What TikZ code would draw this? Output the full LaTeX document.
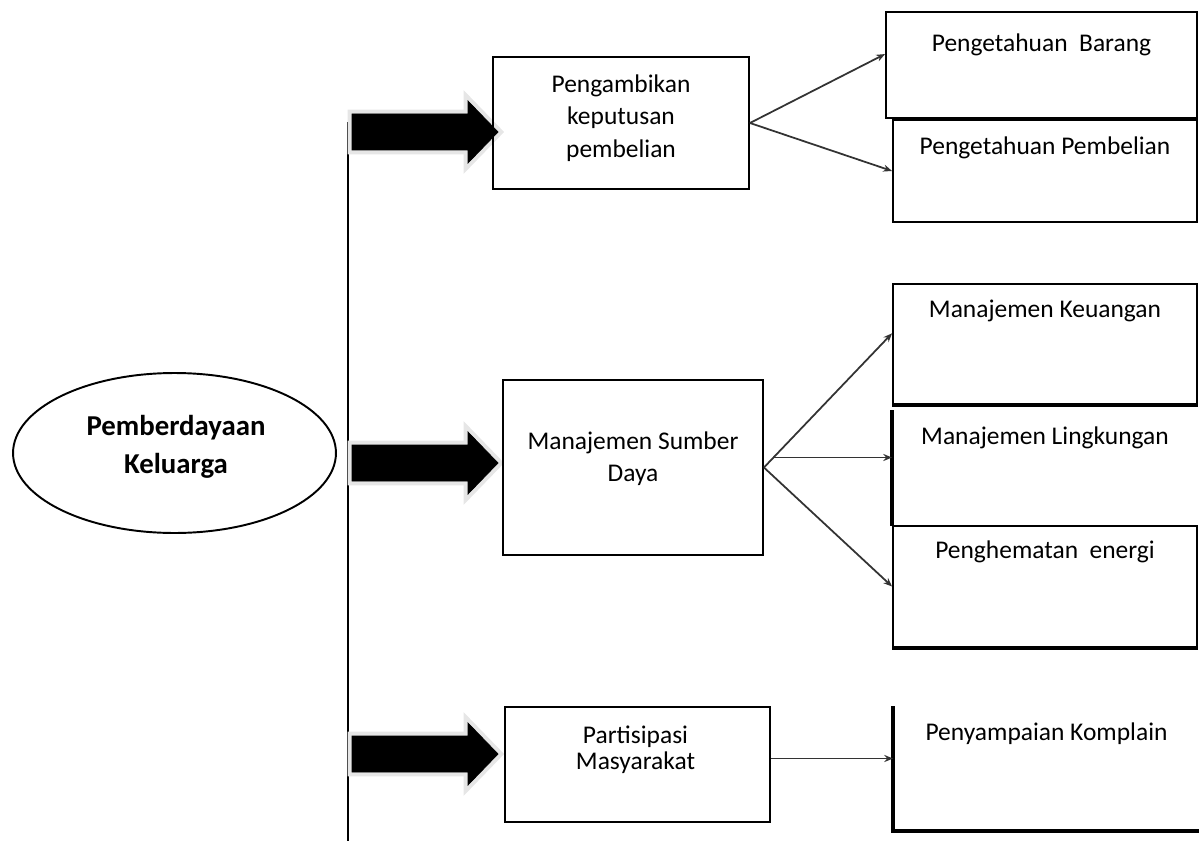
\documentclass[tikz,border=0pt]{standalone}
\usepackage{fontspec}
\setmainfont{Carlito}
\usetikzlibrary{
  arrows.meta,
  positioning,
  shapes.geometric,
  calc
}
\definecolor{pkline}{HTML}{333333}
\definecolor{pkshade}{HTML}{E6E6E6}

\begin{document}
\begin{tikzpicture}[x=0.02cm, y=-0.02cm,
      midbox/.style={
        rectangle, draw=black, line width=1.1pt, inner sep=0pt
      },
      midtext/.style={
        inner sep=0pt, align=center,
        font=\fontsize{14.5}{18.5}\selectfont
      },
      rbox/.style={
        rectangle, draw=black, line width=1.1pt,
        minimum width=6.08cm, inner sep=0pt
      },
      rtext/.style={font=\fontsize{14.5}{18}\selectfont, inner sep=0pt},
      heavy/.style={draw=black, line width=2.4pt},
      conn/.style={-{Stealth[length=5pt, width=4pt]}, draw=pkline, line width=1pt},
      bigarrow/.style={fill=black, preaction={draw=pkshade, line width=5pt, line join=miter}},
      trunk/.style={draw=black, line width=1pt}
    ]
      \useasboundingbox (0,0) rectangle (1199,841);

      % main idea
      \node[draw, ellipse, line width=1.1pt, minimum width=6.46cm, minimum height=3.2cm] (pk) at (174.5,453) {};
      \node[font=\fontsize{16.4}{21.5}\selectfont\bfseries, align=center, inner sep=0pt] (pklabel) at (176,447)
        {Pemberdayaan\\Keluarga};

      \coordinate (trunktop) at (348,122);
      \coordinate (trunkend) at (348,841);
      \draw[trunk] (trunktop) -- (trunkend);

      % block arrows
      \draw[bigarrow] (352,114) -- ++(116,0) -- ++(0,-13) -- ++(30,31) -- ++(-30,31) -- ++(0,-13) -- ++(-116,0) -- cycle;
      \draw[bigarrow] (352,445) -- ++(116,0) -- ++(0,-13) -- ++(30,31) -- ++(-30,31) -- ++(0,-13) -- ++(-116,0) -- cycle;
      \draw[bigarrow] (352,736) -- ++(116,0) -- ++(0,-13) -- ++(30,31) -- ++(-30,31) -- ++(0,-13) -- ++(-116,0) -- cycle;

      % middle column
      \node[midbox, minimum width=5.12cm, minimum height=2.64cm] (pkp) at (621,123) {};
      \node[midtext] (pkptext) at ($(pkp.center)+(0,-5)$) {Pengambikan\\keputusan\\pembelian};
      \node[midbox, minimum width=5.2cm, minimum height=3.5cm] (msd) at (633,467.5) {};
      \node[midtext] (msdtext) at ($(msd.center)+(0,-9)$) {Manajemen Sumber\\Daya};
      \node[midbox, minimum width=5.3cm, minimum height=2.3cm] (pm) at (637.5,764.5) {};
      \node[midtext, font=\fontsize{14.5}{14.5}\selectfont] (pmtext) at ($(pm.center)+(-2,-15)$) {Partisipasi\\Masyarakat};

      % right column
      \node[rbox, minimum width=6.22cm, minimum height=2.12cm] (barang) at (1041.5,65) {};
      \node[rtext, below=0.44cm of barang.north] {Pengetahuan\ \ Barang};
      \node[rbox, minimum height=2.04cm] (pemb) at (1045,171) {};
      \node[rtext, below=0.34cm of pemb.north] {Pengetahuan Pembelian};

      \node[rbox, minimum height=2.4cm] (keu) at (1045,344) {};
      \draw[heavy] (keu.south west) -- (keu.south east);
      \node[rtext, below=0.34cm of keu.north] {Manajemen Keuangan};
      \node[rbox, draw=none, minimum height=2.28cm] (lingk) at (1045,468) {};
      \draw[heavy] (lingk.north west) -- (lingk.south west);
      \node[rtext, below=0.32cm of lingk.north] {Manajemen Lingkungan};
      \node[rbox, minimum height=2.42cm] (hemat) at (1045,586.5) {};
      \draw[draw=black, line width=1.8pt] (hemat.south west) -- (hemat.south east);
      \node[rtext, below=0.3cm of hemat.north] {Penghematan\ \ energi};

      \node[rbox, draw=none, minimum width=6.1cm, minimum height=2.46cm] (komplain) at (1046.5,768.5) {};
      \draw[heavy] (komplain.north west) -- (komplain.south west) -- (komplain.south east);
      \node[rtext, below=0.32cm of komplain.north] {Penyampaian Komplain};

      % links
      \draw[conn] (pkp.east) -- (barang.176);
      \draw[conn] (pkp.east) -- (pemb.west);
      \draw[conn] (msd.east) -- (keu.176);
      \coordinate (msdout) at ($(msd.east)+(9,-10)$);
      \draw[conn] (msdout) -- (msdout -| lingk.west);
      \draw[conn] (msd.east) -- (hemat.west);
      \coordinate (pmout) at ($(pm.east)+(0,-6)$);
      \draw[conn] (pmout) -- (pmout -| komplain.west);
    \end{tikzpicture}
\end{document}
